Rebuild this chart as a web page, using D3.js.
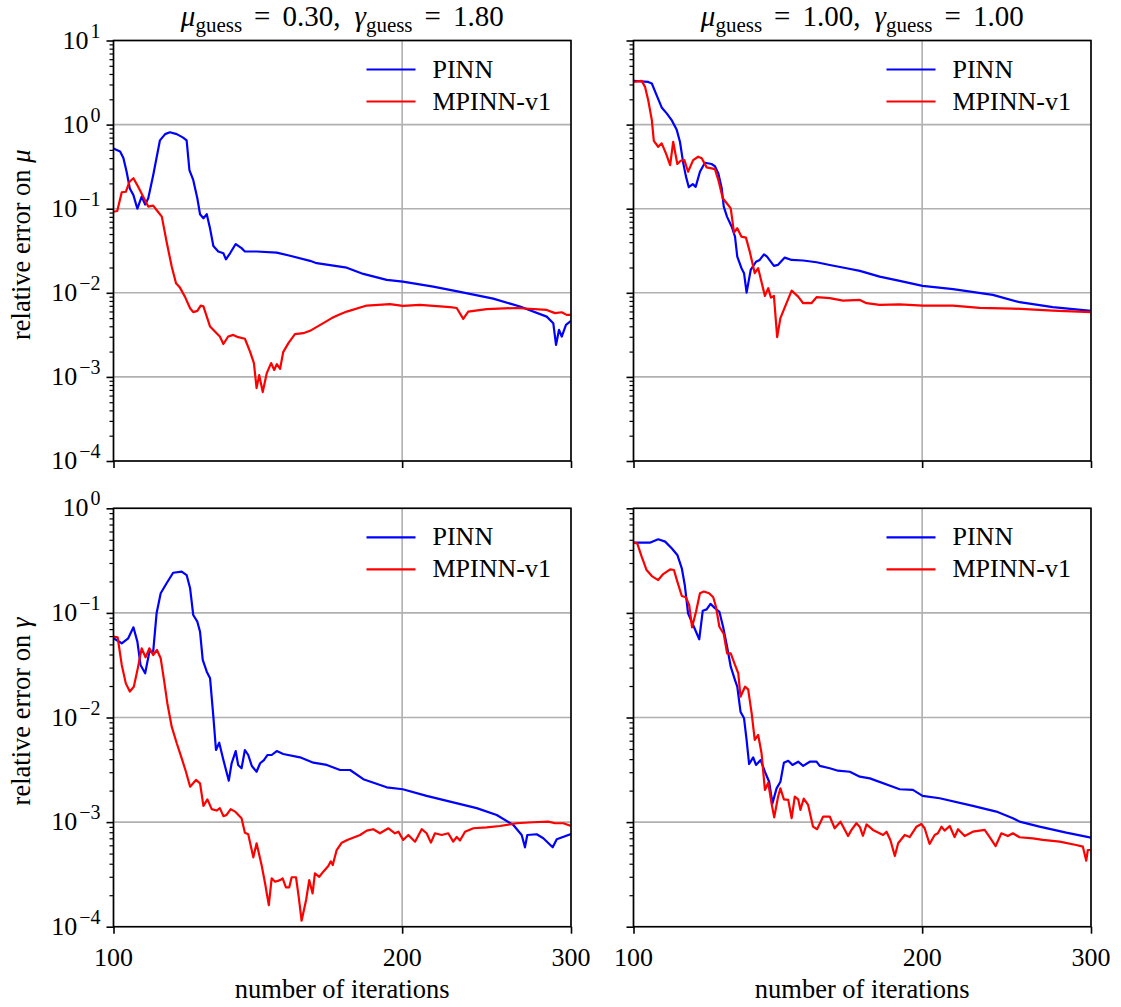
<!DOCTYPE html>
<html><head><meta charset="utf-8">
<script src="https://cdn.jsdelivr.net/npm/d3@7"></script>
<style>
body{margin:0;background:#fff}
svg{display:block}
</style>
</head><body>
<svg id="c" width="1121" height="1007" font-family="'Liberation Serif', 'DejaVu Serif', serif"></svg>
<script>
// ---------- DATA ----------
const xTicks = [100, 200, 300];
const topExps = [1, 0, -1, -2, -3, -4];
const botExps = [0, -1, -2, -3, -4];
const seriesNames = ["PINN", "MPINN-v1"];
const colTitles = [["0.30", "1.80"], ["1.00", "1.00"]];
const rowSymbols = ["μ", "γ"];

// relative error on mu, guess (0.30, 1.80)
const muA_pinn_it = [100,101.6,102.4,103.2,104,104.9,105.9,107,107.9,108.7,110,111.8,113.2,114.5,116.4,118.2,119.2,120,121.1,122.3,123.1,124.1,125.1,126.1,127.1,128.6,130.2,131,132.3,134.1,136,137.1,141,148,152.8,160.3,162.9,172.3,175.1,182.2,192.7,200.3,215.5,229.8,248.9,265.4,283,287.5,289.4,291.5,293.4,296.4,300];
const muA_pinn = [0.52,0.48,0.40,0.275,0.174,0.145,0.10,0.139,0.112,0.133,0.25,0.65,0.77,0.81,0.77,0.70,0.65,0.288,0.22,0.133,0.086,0.077,0.086,0.058,0.036,0.031,0.0295,0.025,0.0295,0.038,0.034,0.031,0.031,0.030,0.0276,0.024,0.0225,0.0205,0.0199,0.01676,0.01423,0.01358,0.01185,0.01025,0.00853,0.00686,0.00521,0.00435,0.0024,0.00363,0.00302,0.00416,0.00464];
const muA_mp_it = [100,100.9,102,103,103.9,104.9,106.1,107.4,108.7,110,110.9,112.3,113.6,115,116.2,117.3,118.7,120.2,121.1,122.3,123.3,124.1,126.1,128.1,129.1,130.2,131.7,133.3,134.9,137.1,138.8,140.1,141,141.9,143.1,144.5,146,147.1,148,149.2,150.3,152.2,154.6,157.7,160.3,165.5,168.9,172.3,175.1,183.7,194.2,200.3,208.8,224.4,228,231.6,234.4,245,263.3,283,288.7,293.4,296.9,300];
const muA_mp = [0.092,0.094,0.157,0.159,0.209,0.23,0.182,0.139,0.106,0.109,0.0966,0.0804,0.0405,0.0205,0.013,0.01153,0.00901,0.00656,0.00589,0.0061,0.00705,0.0069,0.00397,0.00331,0.00302,0.00246,0.00302,0.00316,0.00297,0.00284,0.002,0.00146,0.000736,0.00105,0.00066,0.00111,0.00146,0.00121,0.00142,0.00125,0.00197,0.00252,0.00322,0.00331,0.00353,0.00436,0.005,0.00557,0.00598,0.00705,0.00733,0.007,0.00718,0.00675,0.0066,0.0049,0.00598,0.0064,0.0066,0.00626,0.00573,0.00587,0.00546,0.00546];

// relative error on mu, guess (1.00, 1.00)
const muB_pinn_it = [100,103.6,104.5,105.7,107,108.3,109.6,110.9,111.8,112.7,113.4,114.2,115.3,116.1,117.3,118.7,120.6,121.6,122.6,123.6,124.2,125.2,126.6,127.6,128.3,129.6,130.4,131.2,132.5,134.2,135.4,136.8,137.8,140.1,141.5,143.8,146.2,150.3,155.2,160.2,166.8,172.2,180.6,189.5,200.2,215.4,237,252.7,273.7,300];
const muB_pinn = [3.31,3.22,3.08,2.24,1.60,1.36,1.13,0.877,0.625,0.346,0.244,0.18,0.196,0.182,0.275,0.352,0.34,0.32,0.263,0.175,0.106,0.080,0.061,0.0465,0.0269,0.0196,0.0171,0.01005,0.0187,0.0234,0.0246,0.0287,0.0269,0.0209,0.0215,0.0262,0.0246,0.0242,0.0231,0.0214,0.0196,0.0182,0.01557,0.01384,0.01207,0.01104,0.00945,0.00773,0.00675,0.0061];
const muB_mp_it = [100,102,102.8,103.6,104.5,105,106.1,107,108.1,109.2,110,111.1,112,113,114,115.4,116.8,117.8,119.2,120.6,121.6,122.6,123.9,125.1,126.3,127.3,128.3,129.6,131,132.2,133.8,134.9,137.1,138.2,139.1,140.1,141.2,142.3,144.4,146.2,148.5,150.3,152.1,153.3,155.2,160.2,165.4,172.2,175,180.6,189.5,200.2,215.4,229.6,248.7,273.7,300];
const muB_mp = [3.22,3.31,2.81,1.95,1.13,0.642,0.545,0.598,0.455,0.33,0.625,0.34,0.372,0.378,0.275,0.378,0.415,0.397,0.31,0.302,0.295,0.219,0.133,0.116,0.101,0.0519,0.0585,0.0465,0.0453,0.0309,0.0171,0.0196,0.00919,0.01135,0.00877,0.00919,0.00297,0.00499,0.00752,0.0106,0.00901,0.00752,0.0076,0.00752,0.00887,0.00865,0.00808,0.00822,0.00752,0.00718,0.0073,0.00705,0.00703,0.00661,0.0065,0.00615,0.00589];

// relative error on gamma, guess (0.30, 1.80)
const gamA_pinn_it = [100,102,103.6,104.9,105.9,106.7,107.9,109,110,110.9,112,113.6,115.4,117.8,119.2,120.2,121.1,122.3,123.1,123.9,125.1,126.1,127.1,127.9,128.9,130.2,131.9,132.8,134.1,134.9,136,137.1,138.2,139.4,141,142.2,143.5,144.7,146.2,148,150.3,156.5,161.6,166.9,172.3,176.5,182.2,192.7,200.3,212.1,224.4,239.2,251,261.2,266.5,268.6,270.1,276.3,280.7,287.1,289.9,300];
const gamA_pinn = [0.0572,0.0512,0.0572,0.0728,0.0531,0.0318,0.0265,0.0426,0.0426,0.0991,0.154,0.192,0.242,0.248,0.23,0.172,0.0955,0.0824,0.066,0.0355,0.0274,0.0237,0.0102,0.00489,0.00574,0.00392,0.00249,0.00365,0.00478,0.00352,0.00327,0.00489,0.00438,0.00344,0.00303,0.00365,0.00392,0.00438,0.00438,0.00478,0.00448,0.00416,0.0037,0.00352,0.00315,0.00315,0.00257,0.00215,0.00206,0.00178,0.00157,0.00136,0.00117,0.000938,0.000753,0.000574,0.000753,0.000765,0.0007,0.000574,0.000685,0.000769];
const gamA_mp_it = [100,101,102,103,104,105,106,107,108,109,110,111,112,112.9,113.8,115,116.4,117.8,119,120.2,121.9,123.1,124.1,125.3,126.6,128.1,129.1,130.2,131.2,132.5,133.9,136,137.1,138.2,139.9,141,142.7,143.9,145.2,146.2,147.4,149.2,150.1,151.3,152.5,153.4,155,156,157.1,158.8,160,161.3,162.2,163.9,165.5,167.5,168.5,169.3,170.9,173,175.3,180.8,183.7,186.6,189.6,193.5,196.6,198.2,200.5,203,206.3,209.6,212.1,214.3,216.4,219.9,223.4,226.1,228,229.8,232.6,237.3,245,252.9,263.3,274,284.1,288.7,294.5,300];
const gamA_mp = [0.0592,0.0585,0.0318,0.0212,0.0177,0.0197,0.0295,0.0459,0.0376,0.0459,0.0396,0.0442,0.0368,0.0228,0.0137,0.00817,0.00567,0.00407,0.00303,0.00218,0.00253,0.00235,0.00143,0.00165,0.00133,0.00129,0.00136,0.00114,0.00117,0.00133,0.00126,0.00109,0.000792,0.000767,0.00046,0.000627,0.000389,0.00026,0.000161,0.00029,0.000269,0.000279,0.00029,0.000238,0.000238,0.000297,0.000297,0.000194,0.000114,0.00018,0.000279,0.000208,0.000324,0.0003,0.000336,0.00038,0.000422,0.000389,0.000541,0.000636,0.000675,0.000753,0.000828,0.000855,0.000782,0.000873,0.000782,0.00081,0.000675,0.000753,0.00065,0.000855,0.000782,0.000636,0.000782,0.000753,0.000782,0.00065,0.00072,0.000667,0.00081,0.000873,0.000891,0.000918,0.000975,0.000997,0.00101,0.000975,0.000975,0.00092];

// relative error on gamma, guess (1.00, 1.00)
const gamB_pinn_it = [100,104,106.1,107.9,109.6,111.1,112.3,113.1,114,115,116.2,117.1,118.1,119.2,120.3,121.6,122.9,124,125.2,126.3,127.6,128.3,129.3,130.4,131.2,132,133.3,134.2,135.7,137.1,138.5,139.6,141,142.3,143.5,145,146.5,148.5,150.3,152.7,155.2,156.4,160.2,163.4,168.1,172.2,176.4,189.5,195.6,200.2,208.6,225.9,239,248.7,252.7,265.1,282.7,300];
const gamB_pinn = [0.469,0.469,0.506,0.48,0.415,0.358,0.267,0.185,0.099,0.0824,0.0661,0.056,0.105,0.108,0.122,0.111,0.1026,0.0738,0.0475,0.0306,0.0228,0.0197,0.01136,0.00982,0.0061,0.00359,0.00416,0.00352,0.00392,0.00303,0.00243,0.00151,0.0021,0.00243,0.0037,0.00386,0.00352,0.00378,0.00345,0.00378,0.00378,0.00345,0.00327,0.0031,0.00303,0.00272,0.00262,0.00206,0.00203,0.00178,0.00169,0.00143,0.00126,0.00109,0.00101,0.000904,0.000792,0.00071];
const gamB_mp_it = [100,100.9,102,103.2,104.5,106.1,107.4,109.2,110.2,111.1,112.3,113.4,114.3,115.1,116.2,117.3,118.4,119.9,121.1,121.9,122.9,124.2,125.2,126.3,127.6,128.6,129.3,130.7,131.7,132.8,133.8,134.9,136,137.1,138.2,139.3,140.2,141.5,142.3,143.5,145,146.2,147.3,148.5,149.3,150.5,152.1,153.9,155.4,157.7,160.2,162.1,164.4,167.4,168.8,170.8,172.2,173.5,175,177.7,182.1,183.6,185.3,187.3,188.8,191.8,194.1,197.3,199.6,201.2,203.6,206.1,207.7,209.5,211.1,213.7,216.2,218,221.5,225.9,232.4,235.2,238.6,241.9,245.7,248.7,252.7,260.9,267.2,278.2,289.5,294.2,296.6,297.7,300];
const gamB_mp = [0.469,0.462,0.344,0.257,0.225,0.206,0.235,0.261,0.257,0.199,0.145,0.141,0.119,0.0728,0.1026,0.154,0.16,0.154,0.141,0.1146,0.0738,0.0629,0.0411,0.0411,0.0318,0.0265,0.0158,0.0197,0.0186,0.011,0.0061,0.00681,0.00455,0.00203,0.00238,0.00151,0.00111,0.00175,0.0021,0.00165,0.00163,0.00109,0.00175,0.00165,0.00131,0.00168,0.00146,0.000904,0.000855,0.00113,0.00113,0.000873,0.00101,0.000736,0.000842,0.000975,0.0009,0.00074,0.00095,0.000842,0.000753,0.00081,0.000675,0.000474,0.000627,0.000753,0.00072,0.000904,0.000959,0.000873,0.000618,0.000753,0.000782,0.000904,0.000828,0.000918,0.00072,0.000855,0.000736,0.00081,0.000842,0.00072,0.00059,0.000782,0.000736,0.000782,0.000716,0.0007,0.000675,0.00065,0.000604,0.000582,0.000428,0.000541,0.000541];

// ---------- LAYOUT ----------
const svg = d3.select("#c");
const FONT = "'Liberation Serif', 'DejaVu Serif', serif";
const FS = 26, LAB = 26.5, SUP = 20, TFS = 29, TSUB = 21;
const colors = ["#0000ff", "#ff0000"];
const cols = [{x0: 113.5, x1: 571}, {x0: 633.5, x1: 1091}];
const rows = [
  {y0: 40.5, y1: 461, dom: [1e-4, 10], exps: topExps},
  {y0: 508.3, y1: 926.7, dom: [1e-4, 1], exps: botExps}
];
const panels = [
  {r: 0, c: 0, s: [[muA_pinn_it, muA_pinn], [muA_mp_it, muA_mp]]},
  {r: 0, c: 1, s: [[muB_pinn_it, muB_pinn], [muB_mp_it, muB_mp]]},
  {r: 1, c: 0, s: [[gamA_pinn_it, gamA_pinn], [gamA_mp_it, gamA_mp]]},
  {r: 1, c: 1, s: [[gamB_pinn_it, gamB_pinn], [gamB_mp_it, gamB_mp]]}
];

function txt(sel, fs) {
  return sel.append("text").attr("font-family", FONT).attr("font-size", fs || FS).attr("fill", "#000");
}

panels.forEach((p, idx) => {
  const C = cols[p.c], R = rows[p.r];
  const x = d3.scaleLog().domain([100, 300]).range([C.x0, C.x1]);
  const y = d3.scaleLog().domain(R.dom).range([R.y1, R.y0]);
  const g = svg.append("g");
  const majors = R.exps.map(e => Math.pow(10, e));
  const minors = [];
  const lo = d3.min(R.exps), hi = d3.max(R.exps);
  for (let e = lo; e < hi; e++) for (let k = 2; k <= 9; k++) minors.push(k * Math.pow(10, e));

  // grid
  g.append("g").selectAll("line").data(majors).join("line")
    .attr("x1", C.x0).attr("x2", C.x1).attr("y1", d => y(d)).attr("y2", d => y(d))
    .attr("stroke", "#b0b0b0").attr("stroke-width", 1.6);
  g.append("g").selectAll("line").data(xTicks).join("line")
    .attr("x1", d => x(d)).attr("x2", d => x(d)).attr("y1", R.y0).attr("y2", R.y1)
    .attr("stroke", "#b0b0b0").attr("stroke-width", 1.6);

  // clip
  const cid = "clip" + idx;
  svg.append("clipPath").attr("id", cid).append("rect")
    .attr("x", C.x0).attr("y", R.y0).attr("width", C.x1 - C.x0).attr("height", R.y1 - R.y0);

  const line = d3.line().x(d => x(d[0])).y(d => y(d[1]));
  p.s.forEach((s, i) => {
    const pts = s[0].map((v, j) => [v, s[1][j]]);
    g.append("path").datum(pts).attr("d", line).attr("clip-path", `url(#${cid})`)
      .attr("fill", "none").attr("stroke", colors[i]).attr("stroke-width", 2.2)
      .attr("stroke-linejoin", "round").attr("stroke-linecap", "butt");
  });

  // y ticks
  const ya = g.append("g").attr("transform", `translate(${C.x0},0)`)
    .call(d3.axisLeft(y).tickValues(majors).tickSize(7).tickFormat(""));
  ya.select(".domain").remove();
  ya.selectAll(".tick line").attr("stroke", "#000").attr("stroke-width", 1.6);
  const ym = g.append("g").attr("transform", `translate(${C.x0},0)`)
    .call(d3.axisLeft(y).tickValues(minors).tickSize(4).tickFormat(""));
  ym.select(".domain").remove();
  ym.selectAll(".tick line").attr("stroke", "#000").attr("stroke-width", 1.2);

  // x ticks
  const xa = g.append("g").attr("transform", `translate(0,${R.y1})`)
    .call(d3.axisBottom(x).tickValues(xTicks).tickSize(7).tickFormat(""));
  xa.select(".domain").remove();
  xa.selectAll(".tick line").attr("stroke", "#000").attr("stroke-width", 1.6);

  // spines
  g.append("rect").attr("x", C.x0).attr("y", R.y0).attr("width", C.x1 - C.x0).attr("height", R.y1 - R.y0)
    .attr("fill", "none").attr("stroke", "#000").attr("stroke-width", 1.6);

  // y tick labels (left column only)
  if (p.c === 0) {
    R.exps.forEach(e => {
      const t = txt(g).attr("x", C.x0 - 13).attr("y", y(Math.pow(10, e)) + 8).attr("text-anchor", "end");
      t.append("tspan").text("10");
      t.append("tspan").attr("dx", 2).attr("dy", -11).attr("font-size", SUP)
        .text(e < 0 ? "\u2212" + (-e) : String(e));
    });
    const yl = txt(g, LAB).attr("transform", `translate(30,${(R.y0 + R.y1) / 2 - 6}) rotate(-90)`)
      .attr("text-anchor", "middle");
    yl.append("tspan").text("relative error on ");
    yl.append("tspan").attr("font-style", "italic").text(rowSymbols[p.r]);
  }
  // x tick labels + label (bottom row)
  if (p.r === 1) {
    xTicks.forEach(v => {
      txt(g).attr("x", x(v)).attr("y", 966).attr("text-anchor", "middle").text(v);
    });
    txt(g, LAB).attr("x", (C.x0 + C.x1) / 2).attr("y", 998).attr("text-anchor", "middle")
      .text("number of iterations");
  }
  // titles (top row)
  if (p.r === 0) {
    const tt = txt(g, TFS).attr("x", (C.x0 + C.x1) / 2).attr("y", 26).attr("text-anchor", "middle");
    tt.append("tspan").attr("font-style", "italic").text("μ");
    tt.append("tspan").attr("font-size", TSUB).attr("dy", 6).text("guess");
    tt.append("tspan").attr("dx", 12).attr("dy", -6).text("=");
    tt.append("tspan").attr("dx", 12).text(colTitles[p.c][0] + ",");
    tt.append("tspan").attr("dx", 14).attr("font-style", "italic").text("γ");
    tt.append("tspan").attr("font-size", TSUB).attr("dy", 6).text("guess");
    tt.append("tspan").attr("dx", 12).attr("dy", -6).text("=");
    tt.append("tspan").attr("dx", 12).text(colTitles[p.c][1]);
  }
  // legend
  seriesNames.forEach((n, i) => {
    const ly = R.y0 + 29 + i * 32;
    g.append("line").attr("x1", C.x0 + 253).attr("x2", C.x0 + 302).attr("y1", ly).attr("y2", ly)
      .attr("stroke", colors[i]).attr("stroke-width", 2.2);
    txt(g).attr("x", C.x0 + 319).attr("y", ly + 8).text(n);
  });
});
</script>
</body></html>
